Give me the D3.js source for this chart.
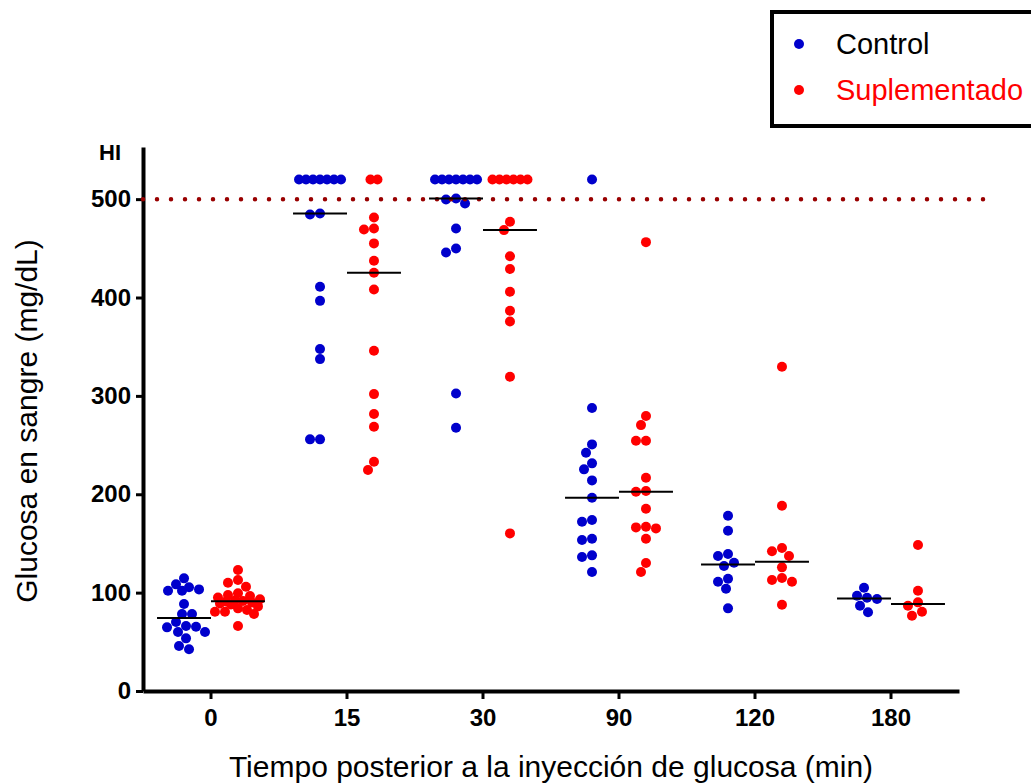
<!DOCTYPE html>
<html>
<head>
<meta charset="utf-8">
<script src="https://cdn.jsdelivr.net/npm/d3@7"></script>
<style>
    body { margin: 0; background: #fff; }
    text { font-family: "Liberation Sans", Arial, sans-serif; }
</style>
</head>
<body>
<svg width="1031" height="784"></svg>
<script>
// minutes after glucose injection
var times = ["0", "15", "30", "90", "120", "180"];
var series = ["Control", "Suplementado"];
var colors = ["#0000cc", "#ff0000"];
var yTicks = [0, 100, 200, 300, 400, 500];
var hiLimit = 500;   // meter upper limit, values above drawn on the "HI" row
var hiValue = 520;

// blood glucose (mg/dL), one list per time point
var control = [
    [114.5, 108.4, 105.4, 103.3, 101.9, 101.9, 88.4, 78.3, 78.3, 70.1, 66, 65.4, 64.7, 60, 60, 53.5, 45.7, 42.4],
    [520, 520, 520, 520, 520, 520, 520, 485.4, 484.4, 410.9, 396.6, 347.6, 337.4, 255.8, 255.8],
    [520, 520, 520, 520, 520, 520, 520, 500.7, 499.7, 495.6, 470.2, 449.9, 445.8, 302.5, 267.6],
    [520, 287.6, 250.7, 242.2, 231.4, 225.3, 214.1, 196.5, 173.8, 172.1, 154.8, 153.5, 137.9, 136.2, 121],
    [178.2, 162.9, 139.2, 137.2, 130.4, 127, 114.1, 111.1, 104, 84],
    [105, 96.9, 94.8, 93.5, 86.7, 80]
];
var suplementado = [
    [123, 112.8, 110, 106, 99.3, 97.6, 96.5, 95, 93.2, 92, 91.5, 91, 90, 89, 88, 86, 84, 82.3, 80.6, 80.6, 78.3, 66],
    [520, 520, 481.4, 470.2, 469.2, 455, 437.3, 425.1, 408.2, 345.8, 301.8, 281.5, 268.6, 233, 224.6],
    [520, 520, 520, 520, 520, 520, 477, 468.5, 442, 428.9, 405.8, 386.5, 375.7, 319.4, 160.2],
    [456.3, 279.5, 270.3, 254.4, 254.4, 216.8, 203.3, 202.6, 185.3, 167, 166.3, 165.3, 154.8, 130.1, 121],
    [329.6, 188.3, 145.3, 142, 137.2, 125.7, 114.8, 112.8, 111.1, 87.7],
    [148.4, 101.9, 90.1, 86.7, 80.6, 76.5]
];

var svg = d3.select("svg");

var x = d3.scaleBand()
    .domain(times)
    .range([143, 959]);

var xs = d3.scaleBand()
    .domain(series)
    .range([0, x.bandwidth()])
    .paddingOuter(0.26);

var y = d3.scaleLinear()
    .domain([0, 553])
    .range([691, 147]);

var groups = [];
times.forEach(function (t, i) {
    groups.push({time: t, serie: series[0], color: colors[0], values: control[i]});
    groups.push({time: t, serie: series[1], color: colors[1], values: suplementado[i]});
});

// beeswarm: HI values sit in one packed row, the rest go as close
// to the centre as they can; when the column is full they overlap
function swarm(values) {
    var dist = 10, hiStep = 7, maxOff = 23;
    var placed = [];
    var hi = values.filter(function (v) { return v >= hiValue; });
    hi.forEach(function (v, i) {
        placed.push({v: v, py: y(v), dx: (i - (hi.length - 1) / 2) * hiStep});
    });
    values.filter(function (v) { return v < hiValue; })
        .sort(function (a, b) { return b - a; })
        .forEach(function (v) {
            var p = {v: v, py: y(v), dx: 0};
            var best = 0, bestGap = -1;
            for (var k = 0; k <= 2 * maxOff; k++) {
                var off = (k % 2 === 0 ? 1 : -1) * Math.ceil(k / 2);
                var gap = d3.min(placed, function (q) {
                    var a = off - q.dx, b = p.py - q.py;
                    return Math.sqrt(a * a + b * b);
                });
                if (gap === undefined || gap >= dist) { best = off; break; }
                if (gap > bestGap + 0.5) { bestGap = gap; best = off; }
            }
            p.dx = best;
            placed.push(p);
        });
    return placed;
}

function center(d) {
    return x(d.time) + xs(d.serie) + xs.bandwidth() / 2;
}

// axes
var yAxis = svg.append("g")
    .attr("transform", "translate(143,0)")
    .call(d3.axisLeft(y).tickValues(yTicks).tickSize(7).tickSizeOuter(0).tickPadding(5));

var xAxis = svg.append("g")
    .attr("transform", "translate(0,691)")
    .call(d3.axisBottom(x).tickSize(8).tickSizeOuter(0).tickPadding(10));

[yAxis, xAxis].forEach(function (ax) {
    ax.select(".domain").attr("stroke", "#000").attr("stroke-width", 4);
    ax.selectAll(".tick line").attr("stroke", "#000").attr("stroke-width", 3);
    ax.selectAll(".tick text")
        .attr("fill", "#000")
        .style("font-size", "24px")
        .style("font-weight", "bold");
});

svg.append("text")
    .attr("x", 110)
    .attr("y", 160)
    .attr("text-anchor", "middle")
    .style("font-size", "22px")
    .style("font-weight", "bold")
    .text("HI");

// dots
var g = svg.selectAll(".grp")
    .data(groups)
    .enter().append("g")
    .attr("class", "grp")
    .attr("fill", function (d) { return d.color; });

g.selectAll("circle")
    .data(function (d) {
        var cx = center(d);
        return swarm(d.values).map(function (p) { return {cx: cx + p.dx, cy: p.py}; });
    })
    .enter().append("circle")
    .attr("cx", function (d) { return d.cx; })
    .attr("cy", function (d) { return d.cy; })
    .attr("r", 5);

// limit line
svg.append("line")
    .attr("x1", 143)
    .attr("x2", 985)
    .attr("y1", y(hiLimit))
    .attr("y2", y(hiLimit))
    .attr("stroke", "#990000")
    .attr("stroke-width", 4.5)
    .attr("stroke-linecap", "round")
    .attr("stroke-dasharray", "0 14");

// medians
svg.selectAll(".median")
    .data(groups)
    .enter().append("line")
    .attr("class", "median")
    .attr("x1", function (d) { return center(d) - xs.step() / 2; })
    .attr("x2", function (d) { return center(d) + xs.step() / 2; })
    .attr("y1", function (d) { return y(d3.median(d.values)); })
    .attr("y2", function (d) { return y(d3.median(d.values)); })
    .attr("stroke", "#000")
    .attr("stroke-width", 2);

// axis titles
svg.append("text")
    .attr("transform", "translate(37,421) rotate(-90)")
    .attr("text-anchor", "middle")
    .style("font-size", "30px")
    .text("Glucosa en sangre (mg/dL)");

svg.append("text")
    .attr("x", 551)
    .attr("y", 777)
    .attr("text-anchor", "middle")
    .style("font-size", "30px")
    .text("Tiempo posterior a la inyección de glucosa (min)");

// legend
svg.append("rect")
    .attr("x", 772)
    .attr("y", 12)
    .attr("width", 300)
    .attr("height", 114)
    .attr("fill", "#fff")
    .attr("stroke", "#000")
    .attr("stroke-width", 4);

var legend = svg.selectAll(".legend")
    .data(series)
    .enter().append("g")
    .attr("class", "legend")
    .attr("transform", function (d, i) { return "translate(0," + (44 + i * 46) + ")"; });

legend.append("circle")
    .attr("cx", 799)
    .attr("r", 5)
    .attr("fill", function (d, i) { return colors[i]; });

legend.append("text")
    .attr("x", 836)
    .attr("dy", "0.35em")
    .style("font-size", "29px")
    .attr("fill", function (d, i) { return i === 0 ? "#000" : colors[i]; })
    .text(function (d) { return d; });
</script>
</body>
</html>
